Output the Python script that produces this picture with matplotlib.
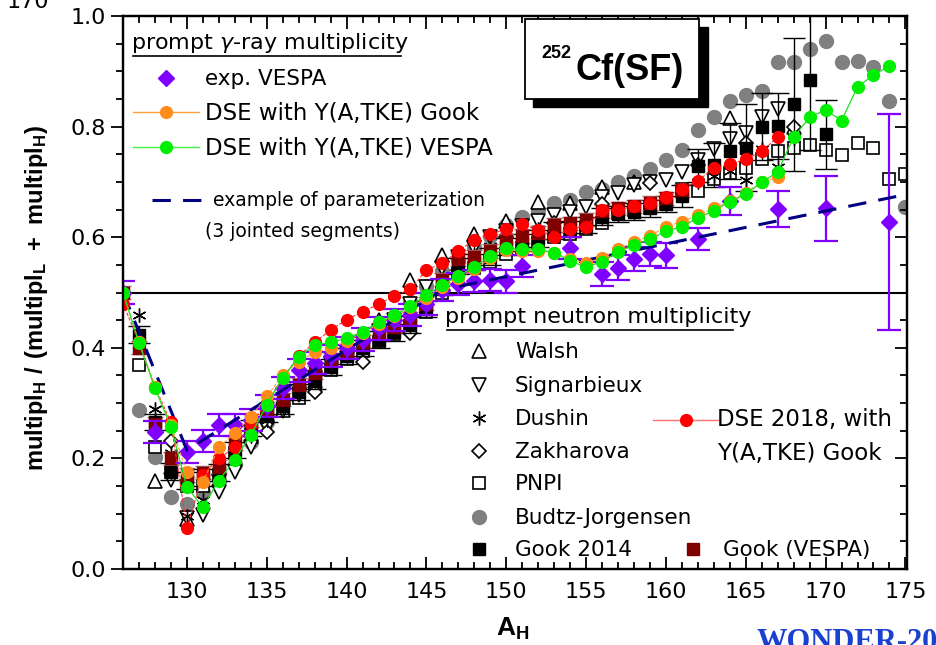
import numpy as np
import matplotlib
matplotlib.use('Agg')
import matplotlib.pyplot as plt
from matplotlib.ticker import MultipleLocator, FormatStrFormatter
from matplotlib.patches import Rectangle

plt.rcParams['font.family'] = ['DejaVu Sans']
plt.rcParams['mathtext.fontset'] = 'custom'
plt.rcParams['mathtext.rm'] = 'DejaVu Sans'
plt.rcParams['mathtext.it'] = 'DejaVu Sans:italic'
plt.rcParams['mathtext.bf'] = 'Liberation Sans:bold'

# ---------------- data ----------------
# prompt gamma-ray multiplicity, exp. VESPA
A_vespa = [126, 128, 130, 131, 132, 133, 134, 135, 136, 137, 138, 139, 140, 141, 142, 143, 144, 145,
           146, 147, 148, 149, 150, 151, 154, 156, 157, 158, 159, 160, 162, 164, 167, 170, 174]
r_vespa = [0.500, 0.248, 0.211, 0.232, 0.260, 0.260, 0.270, 0.295, 0.327, 0.359, 0.372, 0.385, 0.400,
           0.415, 0.435, 0.450, 0.460, 0.480, 0.505, 0.516, 0.521, 0.522, 0.520, 0.548, 0.580, 0.533,
           0.545, 0.560, 0.570, 0.567, 0.596, 0.665, 0.651, 0.652, 0.627]
e_vespa = [0.02, 0.02, 0.02, 0.02, 0.02, 0.02, 0.02, 0.02, 0.02, 0.02, 0.02, 0.02, 0.02, 0.02, 0.02,
           0.02, 0.02, 0.02, 0.02, 0.02, 0.02, 0.02, 0.02, 0.02, 0.02, 0.022, 0.022, 0.022, 0.022,
           0.022, 0.02, 0.025, 0.033, 0.058, 0.195]

# DSE with Y(A,TKE) Gook
A_dse_gook = list(range(126, 168))
r_dse_gook = [0.500, 0.410, 0.330, 0.260, 0.175, 0.157, 0.220, 0.246, 0.275, 0.312, 0.351, 0.375,
              0.392, 0.399, 0.412, 0.427, 0.443, 0.457, 0.473, 0.490, 0.510, 0.526, 0.542, 0.562,
              0.576, 0.575, 0.575, 0.572, 0.560, 0.554, 0.562, 0.578, 0.592, 0.602, 0.619, 0.628,
              0.640, 0.652, 0.666, 0.680, 0.700, 0.708]

# DSE with Y(A,TKE) VESPA
A_dse_vespa = list(range(126, 175))
r_dse_vespa = [0.500, 0.409, 0.327, 0.257, 0.148, 0.112, 0.160, 0.198, 0.242, 0.297, 0.346, 0.383,
               0.405, 0.410, 0.417, 0.429, 0.446, 0.459, 0.476, 0.495, 0.514, 0.530, 0.546, 0.566,
               0.580, 0.578, 0.578, 0.572, 0.557, 0.546, 0.556, 0.573, 0.586, 0.596, 0.611, 0.619,
               0.635, 0.648, 0.664, 0.678, 0.699, 0.718, 0.781, 0.817, 0.830, 0.811, 0.872, 0.893,
               0.910]

# DSE 2018, with Y(A,TKE) Gook (neutrons)
A_dse2018 = list(range(126, 168))
r_dse2018 = [0.480, 0.410, 0.330, 0.265, 0.075, 0.170, 0.200, 0.220, 0.262, 0.300, 0.345, 0.385,
             0.410, 0.432, 0.451, 0.465, 0.479, 0.494, 0.506, 0.541, 0.553, 0.575, 0.595, 0.605,
             0.615, 0.623, 0.613, 0.600, 0.615, 0.619, 0.649, 0.649, 0.656, 0.662, 0.672, 0.688,
             0.702, 0.725, 0.732, 0.741, 0.755, 0.781]

# parameterization: 3 jointed segments (knots)
A_param = [126, 130, 146, 175]
r_param = [0.500, 0.215, 0.505, 0.677]

# prompt neutron multiplicity data sets
A_walsh = [128, 130, 134, 136, 138, 140, 142, 144, 146, 148, 150, 152, 154, 156, 158, 164, 168]
r_walsh = [0.160, 0.090, 0.240, 0.288, 0.340, 0.405, 0.450, 0.523, 0.568, 0.605, 0.630,
           0.663, 0.662, 0.690, 0.700, 0.816, 0.800]

A_sign = list(range(129, 168))
r_sign = [0.161, 0.092, 0.097, 0.140, 0.176, 0.221, 0.255, 0.285, 0.315, 0.345, 0.370, 0.390, 0.410,
          0.430, 0.450, 0.480, 0.510, 0.545, 0.565, 0.580, 0.600, 0.612, 0.620, 0.630, 0.640, 0.645,
          0.655, 0.673, 0.680, 0.694, 0.700, 0.703, 0.718, 0.740, 0.760, 0.777, 0.788, 0.818, 0.831]

A_dushin = list(range(127, 169))
r_dushin = [0.459, 0.290, 0.210, 0.095, 0.125, 0.165, 0.205, 0.240, 0.270, 0.300, 0.325, 0.350,
            0.370, 0.390, 0.405, 0.420, 0.440, 0.460, 0.490, 0.520, 0.550, 0.570, 0.585, 0.600,
            0.605, 0.615, 0.620, 0.625, 0.630, 0.640, 0.645, 0.650, 0.660, 0.665, 0.680, 0.700,
            0.710, 0.720, 0.703, 0.760, 0.727, 0.780]

A_zakh = [129, 132, 135, 138, 141, 144, 147, 150, 153, 156, 159, 162, 165, 168]
r_zakh = [0.232, 0.170, 0.248, 0.320, 0.375, 0.427, 0.540, 0.600, 0.625, 0.660, 0.698, 0.730,
          0.770, 0.800]

A_pnpi = list(range(126, 176))
r_pnpi = [0.500, 0.369, 0.220, 0.176, 0.150, 0.150, 0.170, 0.210, 0.250, 0.275, 0.290, 0.310,
          0.330, 0.360, 0.380, 0.395, 0.410, 0.425, 0.440, 0.465, 0.500, 0.535, 0.545, 0.555,
          0.570, 0.580, 0.590, 0.600, 0.605, 0.615, 0.625, 0.643, 0.650, 0.652, 0.660, 0.687,
          0.684, 0.705, 0.717, 0.725, 0.741, 0.755, 0.762, 0.766, 0.758, 0.749, 0.770, 0.761,
          0.705, 0.714]

A_budtz = list(range(126, 176))
r_budtz = [0.500, 0.287, 0.203, 0.130, 0.118, 0.140, 0.160, 0.190, 0.229, 0.266, 0.300, 0.330,
           0.355, 0.375, 0.395, 0.415, 0.435, 0.455, 0.482, 0.511, 0.538, 0.559, 0.583, 0.602,
           0.622, 0.637, 0.650, 0.661, 0.668, 0.682, 0.688, 0.699, 0.711, 0.724, 0.739, 0.757,
           0.794, 0.817, 0.847, 0.857, 0.865, 0.916, 0.916, 0.940, 0.954, 0.916, 0.918, 0.908,
           0.846, 0.655]

A_gook14 = list(range(127, 171))
r_gook14 = [0.424, 0.266, 0.176, 0.160, 0.165, 0.175, 0.215, 0.255, 0.280, 0.295, 0.320, 0.340,
            0.365, 0.385, 0.400, 0.415, 0.428, 0.442, 0.470, 0.510, 0.548, 0.555, 0.565, 0.583,
            0.590, 0.598, 0.612, 0.615, 0.622, 0.637, 0.642, 0.646, 0.652, 0.660, 0.675, 0.729,
            0.730, 0.756, 0.762, 0.800, 0.801, 0.840, 0.884, 0.786]
e_gook14 = [0.015, 0.015, 0.015, 0.015, 0.015, 0.015, 0.015, 0.015, 0.015, 0.015, 0.015, 0.015,
            0.015, 0.015, 0.015, 0.015, 0.015, 0.015, 0.015, 0.015, 0.015, 0.015, 0.015, 0.015,
            0.015, 0.015, 0.015, 0.015, 0.015, 0.015, 0.015, 0.015, 0.015, 0.015, 0.02, 0.03,
            0.04, 0.05, 0.078, 0.06, 0.06, 0.12, 0.127, 0.062]

A_gookv = list(range(126, 162))
r_gookv = [0.500, 0.400, 0.262, 0.200, 0.170, 0.174, 0.185, 0.228, 0.268, 0.290, 0.306, 0.333,
           0.355, 0.378, 0.395, 0.411, 0.427, 0.438, 0.452, 0.480, 0.523, 0.560, 0.565, 0.575,
           0.593, 0.602, 0.608, 0.622, 0.625, 0.632, 0.647, 0.652, 0.656, 0.662, 0.670, 0.685]
e_gookv = 0.012

# ---------------- figure ----------------
fig = plt.figure(figsize=(9.37, 6.45), dpi=100)
ax = fig.add_axes([0.1313, 0.1178, 0.8367, 0.8574])

ax.axhline(0.5, color='black', lw=1.5, zorder=1)

ms_open = dict(mfc='white', mec='black', mew=1.2, ls='none')
ax.plot(A_budtz, r_budtz, 'o', color='#808080', ms=10, ls='none', zorder=2)
ax.plot(A_pnpi, r_pnpi, 's', ms=8.5, zorder=2, **ms_open)
ax.plot(A_walsh, r_walsh, '^', ms=10, zorder=2, **ms_open)
ax.plot(A_sign, r_sign, 'v', ms=10, zorder=2, **ms_open)
ax.plot(A_zakh, r_zakh, 'D', ms=7.5, zorder=2, **ms_open)
ax.plot(A_dushin, r_dushin, marker=(6, 2, 0), color='black', ms=10, mew=1.0, ls='none', zorder=2)
ax.errorbar(A_gook14, r_gook14, yerr=e_gook14, fmt='s', color='black', ms=8, elinewidth=1.0,
            capsize=8, capthick=1.0, zorder=3)
ax.errorbar(A_gookv, r_gookv, yerr=e_gookv, fmt='s', color='#800000', ecolor='#a06060', ms=8,
            elinewidth=1.0, capsize=6, capthick=1.0, zorder=3)
ax.errorbar(A_vespa, r_vespa, yerr=e_vespa, fmt='D', color='#7f00ff', ms=8, elinewidth=1.6,
            capsize=8.5, capthick=1.6, zorder=4)
ax.plot(A_param, r_param, color='#000080', lw=2.2, ls=(0, (6, 4)), zorder=5)
ax.plot(A_dse2018, r_dse2018, color='#ff3030', lw=0.8, ls=(0, (3, 1.5)), marker='o', mfc='#ff0000',
        mec='#ff0000', ms=8.5, zorder=6)
ax.plot(A_dse_gook, r_dse_gook, color='#ffa040', lw=0.8, ls=(0, (3, 1.5)), marker='o',
        mfc='#ff8c1a', mec='#ff8c1a', ms=8.5, zorder=7)
ax.plot(A_dse_vespa, r_dse_vespa, color='#22dd22', lw=0.9, marker='o', mfc='#00ee00',
        mec='#00ee00', ms=8.5, zorder=8)

# axes, ticks
ax.set_xlim(126, 175.1)
ax.set_ylim(0, 1)
ax.xaxis.set_major_locator(MultipleLocator(5))
ax.xaxis.set_minor_locator(MultipleLocator(1))
ax.yaxis.set_major_locator(MultipleLocator(0.2))
ax.yaxis.set_minor_locator(MultipleLocator(0.05))
ax.yaxis.set_major_formatter(FormatStrFormatter('%.1f'))
ax.tick_params(axis='x', which='both', direction='in', top=True, labelsize=16, width=1.3, pad=9)
ax.tick_params(axis='x', which='major', length=9)
ax.tick_params(axis='x', which='minor', length=5)
ax.tick_params(axis='y', which='both', direction='out', labelsize=16, width=1.3, pad=3)
ax.tick_params(axis='y', which='major', length=9)
ax.tick_params(axis='y', which='minor', length=5)
for s in ax.spines.values():
    s.set_linewidth(1.6)

axr = ax.twinx()
axr.set_ylim(0, 1)
axr.yaxis.set_major_locator(MultipleLocator(0.2))
axr.yaxis.set_minor_locator(MultipleLocator(0.05))
axr.tick_params(axis='y', which='both', direction='in', labelright=False, width=1.3)
axr.tick_params(axis='y', which='major', length=9)
axr.tick_params(axis='y', which='minor', length=5)
for s in axr.spines.values():
    s.set_linewidth(1.6)

ax.set_xlabel(r'$\mathbf{A_H}$', fontsize=19)
ax.xaxis.set_label_coords(0.497, -0.085)
ax.set_ylabel(r'$\mathbf{multipl_H\ /\ (multipl_L\ +\ multipl_H)}$', fontsize=17)
ax.yaxis.set_label_coords(-0.093, 0.49)


# ---------------- hand-placed legend blocks ----------------
def axy(px, py):
    return (px - 123) / 784, (569 - py) / 553


def key(px0, px1, py, **kw):
    x0, y = axy(px0, py)
    x1, _ = axy(px1, py)
    ax.plot([x0, x1], [y, y], transform=ax.transAxes, clip_on=False, zorder=10, **kw)


def mark(px, py, **kw):
    x, y = axy(px, py)
    ax.plot([x], [y], transform=ax.transAxes, clip_on=False, ls='none', zorder=10, **kw)


def label(px, py, s, size=15.5, **kw):
    x, y = axy(px, py)
    ax.text(x, y, s, transform=ax.transAxes, fontsize=size, va='center', ha='left', zorder=10, **kw)


# gamma block
label(131, 43, r'prompt $\gamma$-ray multiplicity', 16)
key(133, 401, 56, color='black', lw=1.2)
mark(166, 78, marker='D', color='#7f00ff', ms=8)
label(205, 79, 'exp. VESPA', 15.5)
key(133, 199, 112, color='#ffa040', lw=1.0)
mark(166, 112, marker='o', color='#ff8c1a', ms=8.5)
label(205, 113, 'DSE with Y(A,TKE) Gook', 16.5)
key(133, 199, 147, color='#44ee44', lw=1.0)
mark(166, 147, marker='o', color='#00ee00', ms=8.5)
label(205, 148, 'DSE with Y(A,TKE) VESPA', 16.5)
key(152, 208, 200, color='#000080', lw=2.2, ls=(0, (6, 4)))
label(213, 200, 'example of parameterization', 13.5)
label(205, 231, '(3 jointed segments)', 13.5)

# neutron block
label(445, 317, 'prompt neutron multiplicity', 16)
key(447, 733, 330, color='black', lw=1.2)
rows = [351, 385, 418, 451, 483, 517, 549]
names = ['Walsh', 'Signarbieux', 'Dushin', 'Zakharova', 'PNPI', 'Budtz-Jorgensen', 'Gook 2014']
styles = [dict(marker='^', mfc='white', mec='black', mew=1.2, ms=10),
          dict(marker='v', mfc='white', mec='black', mew=1.2, ms=10),
          dict(marker=(6, 2, 0), color='black', mew=1.0, ms=10),
          dict(marker='D', mfc='white', mec='black', mew=1.2, ms=7.5),
          dict(marker='s', mfc='white', mec='black', mew=1.2, ms=8),
          dict(marker='o', color='#808080', ms=10),
          dict(marker='s', color='black', ms=8)]
for py, nm, st in zip(rows, names, styles):
    mark(479, py, **st)
    label(515, py + 1, nm)
mark(693, 549, marker='s', color='#800000', ms=8)
label(723, 550, 'Gook (VESPA)')
key(653, 718, 420, color='#ff7070', lw=1.0)
mark(686, 420, marker='o', color='#ff0000', ms=8.5)
label(717, 419, 'DSE 2018, with', 16.5)
label(717, 453, 'Y(A,TKE) Gook', 16.5)

# 252Cf(SF) box with shadow
x0, y0 = axy(533, 107)
x1, y1 = axy(708, 27)
ax.add_patch(Rectangle((x0, y0), x1 - x0, y1 - y0, transform=ax.transAxes, facecolor='black',
                       edgecolor='black', zorder=11, clip_on=False))
x0, y0 = axy(525, 99)
x1, y1 = axy(699, 19)
ax.add_patch(Rectangle((x0, y0), x1 - x0, y1 - y0, transform=ax.transAxes, facecolor='white',
                       edgecolor='black', lw=1.3, zorder=12, clip_on=False))
tx, ty = axy(541, 58)
ax.text(tx, ty, '252', transform=ax.transAxes, fontsize=13, fontweight='bold', va='baseline',
        ha='left', zorder=13, family='Liberation Sans')
tx, ty = axy(575, 80)
ax.text(tx, ty, 'Cf(SF)', transform=ax.transAxes, fontsize=26, fontweight='bold', va='baseline',
        ha='left', zorder=13, family='Liberation Sans')

# slide residue around the chart
fig.text(0.0075, 1 - 8 / 645, '170', fontsize=16, va='baseline', ha='left')
fig.text(757 / 937, 1 - 628 / 645, 'WONDER-2018', fontsize=22, fontweight='bold',
         family='Liberation Serif', color='#1a40d0', va='top', ha='left')

fig.savefig('out.png', dpi=100)
